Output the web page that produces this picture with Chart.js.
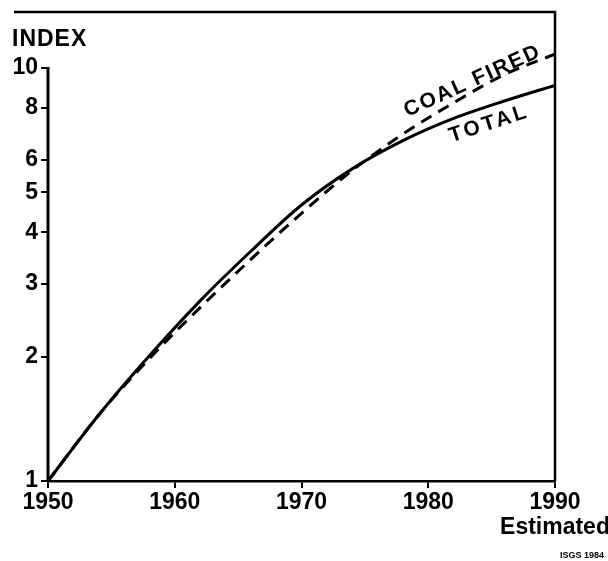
<!DOCTYPE html>
<html>
<head>
<meta charset="utf-8">
<script src="https://cdn.jsdelivr.net/npm/chart.js@4/dist/chart.umd.min.js"></script>
<style>
  html, body { margin: 0; padding: 0; background: #fff; }
  #wrap { width: 608px; height: 561px; position: relative; }
</style>
</head>
<body>
<div id="wrap"><canvas id="c"></canvas></div>
<script>
// ---- data ----
const totalYears = [1950, 1954, 1958, 1962, 1966, 1970, 1974, 1978, 1982, 1986, 1990];
const totalIndex = [1.00, 1.445, 2.01, 2.73, 3.60, 4.66, 5.70, 6.67, 7.55, 8.32, 9.08];
const coalYears  = [1950, 1954, 1958, 1962, 1966, 1970, 1974, 1978, 1982, 1986, 1990];
const coalIndex  = [1.00, 1.445, 1.98, 2.63, 3.44, 4.45, 5.65, 6.92, 8.24, 9.64, 10.81];
const yTickValues = [1, 2, 3, 4, 5, 6, 8, 10];
const xTickValues = [1950, 1960, 1970, 1980, 1990];
const seriesNames = ['TOTAL', 'COAL FIRED'];
const yAxisTitle = 'INDEX';
const lastXNote = 'Estimated';
const creditText = 'ISGS 1984';

const FONT = "'Liberation Sans', Arial, sans-serif";

const toPts = (xs, ys) => xs.map((x, i) => ({ x: x, y: ys[i] }));

const decor = {
  id: 'decor',
  beforeDraw(chart) {
    const ctx = chart.ctx;
    ctx.save();
    ctx.fillStyle = '#fff';
    ctx.fillRect(0, 0, chart.width, chart.height);
    ctx.restore();
  },
  afterDraw(chart) {
    const { ctx, chartArea: a, scales } = chart;
    const xs = scales.x, ys = scales.y;
    ctx.save();
    ctx.strokeStyle = '#000';
    // top frame line (spans the figure) + right frame
    ctx.lineWidth = 2.5;
    ctx.beginPath();
    ctx.moveTo(14, a.top);
    ctx.lineTo(a.right, a.top);
    ctx.lineTo(a.right, a.bottom);
    ctx.stroke();
    // left value axis: from top tick to bottom
    const yTop = ys.getPixelForValue(yTickValues[yTickValues.length - 1]);
    ctx.lineWidth = 3;
    ctx.beginPath();
    ctx.moveTo(a.left, yTop - 1);
    ctx.lineTo(a.left, a.bottom);
    ctx.stroke();

    ctx.fillStyle = '#000';
    // axis title
    ctx.font = "bold 23px " + FONT;
    ctx.textAlign = 'left';
    ctx.textBaseline = 'middle';
    ctx.letterSpacing = '1px';
    ctx.fillText(yAxisTitle, 12, 40);

    // series labels
    ctx.letterSpacing = '2px';
    ctx.font = "bold 21px " + FONT;
    ctx.textAlign = 'center';
    ctx.textBaseline = 'middle';
    let px = xs.getPixelForValue(1983.5), py = ys.getPixelForValue(9.3);
    ctx.save();
    ctx.translate(px, py);
    ctx.rotate(-24.5 * Math.PI / 180);
    ctx.fillText(seriesNames[1], 0, 0);
    ctx.restore();

    ctx.letterSpacing = '3px';
    px = xs.getPixelForValue(1984.8); py = ys.getPixelForValue(7.32);
    ctx.save();
    ctx.translate(px, py);
    ctx.rotate(-18 * Math.PI / 180);
    ctx.fillText(seriesNames[0], 0, 0);
    ctx.restore();

    // credit
    ctx.letterSpacing = '0px';
    ctx.font = "bold 9px " + FONT;
    ctx.textAlign = 'right';
    ctx.fillText(creditText, 604, 556);
    ctx.restore();
  }
};

new Chart(document.getElementById('c'), {
  type: 'line',
  data: {
    datasets: [
      {
        label: seriesNames[0],
        data: toPts(totalYears, totalIndex),
        borderColor: '#000',
        borderWidth: 3,
        pointRadius: 0,
        cubicInterpolationMode: 'monotone',
        fill: false
      },
      {
        label: seriesNames[1],
        data: toPts(coalYears, coalIndex),
        borderColor: '#000',
        borderWidth: 3,
        borderDash: [12, 8],
        pointRadius: 0,
        cubicInterpolationMode: 'monotone',
        fill: false
      }
    ]
  },
  options: {
    responsive: true,
    maintainAspectRatio: false,
    animation: false,
    devicePixelRatio: 1,
    layout: { padding: { top: 12, right: 53, left: 0, bottom: 0 } },
    plugins: { legend: { display: false }, tooltip: { enabled: false } },
    scales: {
      x: {
        type: 'linear',
        min: 1950,
        max: 1990,
        afterBuildTicks(scale) { scale.ticks = xTickValues.map(v => ({ value: v })); },
        afterFit(scale) { scale.height = 80; scale.paddingLeft = 0; scale.paddingRight = 0; },
        ticks: {
          color: '#000',
          font: { family: FONT, size: 23, weight: 'bold', lineHeight: 1.05 },
          padding: 3,
          maxRotation: 0,
          autoSkip: false,
          callback: (v) => v === 1990 ? [String(v), lastXNote] : String(v)
        },
        grid: { display: true, drawOnChartArea: false, drawTicks: true, tickLength: 7, color: '#000', lineWidth: 2 },
        border: { display: true, color: '#000', width: 2.5 }
      },
      y: {
        type: 'logarithmic',
        min: 1,
        max: 13.67,
        afterBuildTicks(scale) { scale.ticks = yTickValues.map(v => ({ value: v })); },
        afterFit(scale) { scale.width = 48; scale.paddingTop = 0; scale.paddingBottom = 0; },
        ticks: {
          color: '#000',
          font: { family: FONT, size: 23, weight: 'bold' },
          padding: 3,
          autoSkip: false,
          callback: (v) => String(v)
        },
        grid: { display: true, drawOnChartArea: false, drawTicks: true, tickLength: 7, color: '#000', lineWidth: 2 },
        border: { display: false }
      }
    }
  },
  plugins: [decor]
});
</script>
</body>
</html>
